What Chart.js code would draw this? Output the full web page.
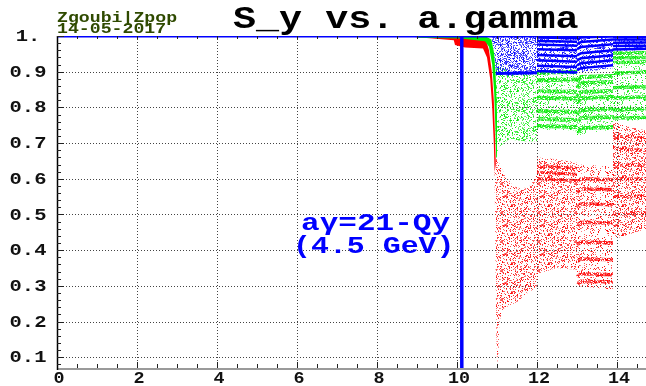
<!DOCTYPE html>
<html>
<head>
<meta charset="utf-8">
<script src="https://cdn.jsdelivr.net/npm/chart.js@4.4.1/dist/chart.umd.min.js"></script>
<style>
  body { margin: 0; background: #fff; }
  canvas { display: block; }
</style>
</head>
<body>
<canvas id="chart" width="646" height="386"></canvas>
<script>
// Axis ranges and tick labels
const xMin = 0, xMax = 14.725, yMin = 0.07, yMax = 1.0;
const xTicks = [0, 2, 4, 6, 8, 10, 12, 14];
const yTicks = [0.1, 0.2, 0.3, 0.4, 0.5, 0.6, 0.7, 0.8, 0.9, 1.0];
const yTickLabels = ['0.1', '0.2', '0.3', '0.4', '0.5', '0.6', '0.7', '0.8', '0.9', '1.'];

// Resonance marker (a.gamma = 21 - Qy)
const resonanceX = [10.12, 10.12];
const resonanceY = [0.07, 1.0];

// Segment x knots
const segAX = [10.97, 12.0];
const segBX = [12.0, 13.0];
const segCX = [13.0, 13.1, 13.9];
const segC2X = [13.0, 13.9];
const segDX = [13.9, 14.725];

// Blue - polarisation kept at 1 until ~10.9
const blueTopX = [0, 14.725];
const blueTopY = [1.0, 1.0];
const blueATopX = [10.85, 12.0];
const blueATopY = [1.0, 1.0];
const blueABotX = [10.85, 10.92, 10.96, 11.0, 11.3, 11.7, 12.0];
const blueABotY = [0.998, 0.96, 0.91, 0.893, 0.888, 0.89, 0.893];
const blueBCloud = { top: [1.0, 1.0], bot: [0.895, 0.893] };
const blueCCloud = { top: [1.0, 1.0], bot: [0.897, 0.91] };
const blueDCloud = { top: [1.0, 1.0], bot: [0.958, 0.96] };
const blueBandsB = [[0.996, 0.994], [0.986, 0.984], [0.976, 0.973], [0.963, 0.96], [0.947, 0.943], [0.932, 0.928], [0.917, 0.913], [0.902, 0.898]];
const blueBandsC = [[0.99, 0.996, 0.999], [0.977, 0.983, 0.99], [0.963, 0.969, 0.977], [0.946, 0.952, 0.96], [0.932, 0.938, 0.946], [0.918, 0.924, 0.932], [0.904, 0.91, 0.918]];
const blueBandsD = [[0.998, 0.997], [0.99, 0.99], [0.981, 0.982], [0.972, 0.973], [0.962, 0.964]];

// Green
const greenHeadTopX = [9.0, 10.7, 10.86, 10.93, 10.97, 11.0, 11.0];
const greenHeadTopY = [1.0, 1.0, 0.99, 0.95, 0.88, 0.78, 0.66];
const greenHeadBotX = [9.0, 10.1, 10.7, 10.8, 10.88, 10.93, 10.96, 10.98];
const greenHeadBotY = [0.995, 0.993, 0.985, 0.97, 0.92, 0.84, 0.74, 0.66];
const greenATopX = [10.97, 11.3, 12.0];
const greenATopY = [0.93, 0.9, 0.895];
const greenABotX = [10.96, 11.05, 11.3, 11.7, 12.0];
const greenABotY = [0.66, 0.69, 0.71, 0.705, 0.705];
const greenBCloud = { top: [0.905, 0.905], bot: [0.738, 0.735] };
const greenCCloud = { top: [0.89, 0.893], bot: [0.722, 0.738] };
const greenDCloud = { top: [0.956, 0.958], bot: [0.762, 0.765] };
const greenBandsB = [[0.897, 0.9], [0.876, 0.878], [0.846, 0.843], [0.827, 0.825], [0.79, 0.787], [0.768, 0.765], [0.748, 0.745]];
const greenBandsC = [[0.872, 0.885, 0.888], [0.855, 0.868, 0.871], [0.83, 0.843, 0.846], [0.813, 0.826, 0.829], [0.78, 0.793, 0.796], [0.757, 0.77, 0.773], [0.729, 0.742, 0.745]];
const greenBandsD = [[0.952, 0.953], [0.939, 0.94], [0.926, 0.927], [0.896, 0.899], [0.855, 0.858], [0.826, 0.829], [0.793, 0.796], [0.77, 0.772]];

// Red
const redHeadTopX = [8.85, 10.6, 10.72, 10.8, 10.87, 10.92, 10.95, 10.97];
const redHeadTopY = [1.0, 1.0, 0.99, 0.96, 0.9, 0.82, 0.72, 0.64];
const redHeadBotX = [8.85, 9.4, 9.92, 9.95, 10.2, 10.65, 10.75, 10.83, 10.88, 10.92, 10.94];
const redHeadBotY = [0.998, 0.993, 0.988, 0.975, 0.968, 0.965, 0.94, 0.88, 0.8, 0.7, 0.62];
const redATopX = [10.97, 11.05, 11.2, 11.4, 11.6, 11.8, 11.95, 12.0];
const redATopY = [0.66, 0.645, 0.61, 0.58, 0.572, 0.578, 0.6, 0.62];
const redABotX = [10.94, 10.96, 10.98, 11.0, 11.03, 11.06, 11.15, 11.3, 11.5, 11.7, 11.9, 12.0];
const redABotY = [0.62, 0.4, 0.2, 0.085, 0.1, 0.2, 0.235, 0.245, 0.255, 0.275, 0.29, 0.3];
const redBTopX = [12.0, 12.5, 13.0];
const redBTopY = [0.66, 0.655, 0.645];
const redBBotX = [12.0, 12.03, 12.5, 13.0];
const redBBotY = [0.3, 0.335, 0.35, 0.345];
const redCCloud = { top: [0.64, 0.635], bot: [0.3, 0.29] };
const redDX = [13.9, 14.3, 14.725];
const redDTopY = [0.76, 0.745, 0.735];
const redDBotY = [0.43, 0.445, 0.46];
const redBandsB = [[0.635, 0.63], [0.618, 0.613], [0.6, 0.595]];
const redBandsC = [[0.592, 0.6, 0.597], [0.562, 0.572, 0.569], [0.52, 0.53, 0.527], [0.47, 0.478, 0.476], [0.415, 0.423, 0.42], [0.368, 0.376, 0.373], [0.326, 0.334, 0.331], [0.306, 0.313, 0.311]];
const redBandsD = [[0.72, 0.715], [0.685, 0.68], [0.64, 0.637], [0.6, 0.6], [0.55, 0.553], [0.5, 0.505]];

// speckled texture so the clouds look like scattered points
const hash = (i, j, s) => {
    let n = Math.imul(i, 374761393) + Math.imul(j, 668265263) + Math.imul(s, 1442695041);
    n = Math.imul(n ^ (n >>> 13), 1274126177);
    return ((n ^ (n >>> 16)) >>> 0) / 4294967296;
};
const speckle = (rgb, density, seed) => {
    const c = document.createElement('canvas');
    c.width = 37; c.height = 29;
    const g = c.getContext('2d');
    for (let i = 0; i < c.width; i++) {
        for (let j = 0; j < c.height; j++) {
            if (hash(i, j, seed) < density) {
                g.fillStyle = `rgba(${rgb},${0.45 + 0.55 * hash(j, i, seed + 7)})`;
                g.fillRect(i, j, 1, 1);
            }
        }
    }
    return g.createPattern(c, 'repeat');
};

const RED = '255,0,0', GREEN = '0,235,0', BLUE = '0,0,255';
const redCloudFill = speckle(RED, 0.3, 1);
const redBandFill = speckle(RED, 0.8, 2);
const greenCloudFill = speckle(GREEN, 0.3, 3);
const greenLightFill = speckle(GREEN, 0.17, 10);
const greenBandFill = speckle(GREEN, 0.85, 4);
const blueCloudFill = speckle(BLUE, 0.45, 5);
const blueLightFill = speckle(BLUE, 0.3, 6);

const pts = (xs, ys) => xs.map((x, i) => ({ x, y: ys[i] }));

const shape = (topX, topY, botX, botY, fill, order) => ({
    data: pts(topX, topY).concat(pts(botX, botY).reverse()),
    fill: 'shape',
    backgroundColor: fill,
    borderColor: 'rgba(0,0,0,0)',
    borderWidth: 1,
    pointRadius: 0,
    tension: 0,
    order
});

const band = (xs, ys, color, width, order) => ({
    data: pts(xs, ys),
    fill: false,
    borderColor: color,
    borderWidth: width,
    pointRadius: 0,
    tension: 0,
    order
});

const datasets = [];

// red (drawn under green and blue)
datasets.push(shape(redHeadTopX, redHeadTopY, redHeadBotX, redHeadBotY, '#ff0000', 70));
datasets.push(shape(redATopX, redATopY, redABotX, redABotY, redCloudFill, 70));
datasets.push(shape(redBTopX, redBTopY, redBBotX, redBBotY, redCloudFill, 70));
datasets.push(shape(segC2X, redCCloud.top, segC2X, redCCloud.bot, speckle(RED, 0.18, 9), 70));
datasets.push(shape(redDX, redDTopY, redDX, redDBotY, redCloudFill, 70));
redBandsB.forEach(b => datasets.push(band(segBX, b, redBandFill, 3, 65)));
redBandsC.forEach(b => datasets.push(band(segCX, b, redBandFill, 3.5, 65)));
redBandsD.forEach(b => datasets.push(band(segDX, b, speckle(RED, 0.55, 8), 3, 65)));

// green
datasets.push(shape(greenATopX, greenATopY, greenABotX, greenABotY, greenCloudFill, 50));
datasets.push(shape(segBX, greenBCloud.top, segBX, greenBCloud.bot, greenLightFill, 50));
datasets.push(shape(segC2X, greenCCloud.top, segC2X, greenCCloud.bot, greenLightFill, 50));
datasets.push(shape(segDX, greenDCloud.top, segDX, greenDCloud.bot, greenLightFill, 50));
datasets.push(shape(greenHeadTopX, greenHeadTopY, greenHeadBotX, greenHeadBotY, '#00ee00', 45));
greenBandsB.forEach(b => datasets.push(band(segBX, b, greenBandFill, 4, 40)));
greenBandsC.forEach(b => datasets.push(band(segCX, b, greenBandFill, 4, 40)));
greenBandsD.forEach(b => datasets.push(band(segDX, b, greenBandFill, 3.5, 40)));

// blue
datasets.push(shape(blueATopX, blueATopY, blueABotX, blueABotY, blueCloudFill, 30));
datasets.push(shape(segBX, blueBCloud.top, segBX, blueBCloud.bot, blueLightFill, 30));
datasets.push(shape(segC2X, blueCCloud.top, segC2X, blueCCloud.bot, blueLightFill, 30));
datasets.push(shape(segDX, blueDCloud.top, segDX, blueDCloud.bot, blueLightFill, 30));
datasets.push(band(segAX, [0.895, 0.897], '#0000ff', 3, 25));
blueBandsB.forEach(b => datasets.push(band(segBX, b, '#0000ff', 2.5, 25)));
blueBandsC.forEach(b => datasets.push(band(segCX, b, '#0000ff', 2.5, 25)));
blueBandsD.forEach(b => datasets.push(band(segDX, b, '#0000ff', 2.5, 25)));
datasets.push(band(blueTopX, blueTopY, '#0000ff', 3, 20));

// resonance line on top
datasets.push(band(resonanceX, resonanceY, '#0000ff', 3.5, 0));

// text drawn wide like the original Courier-ish output
const wide = (ctx, text, x, y, sx, align) => {
    ctx.save();
    ctx.translate(x, y);
    ctx.scale(sx, 1);
    ctx.textAlign = align;
    ctx.fillText(text, 0, 0);
    ctx.restore();
};

const framePlugin = {
    id: 'frame',
    beforeDatasetsDraw(chart) {
        const { ctx, chartArea: a, scales: { x, y } } = chart;
        ctx.save();
        ctx.strokeStyle = '#444';
        ctx.lineWidth = 1;
        ctx.setLineDash([1, 2]);
        ctx.beginPath();
        xTicks.slice(1).forEach(t => {
            const px = Math.round(x.getPixelForValue(t)) + 0.5;
            ctx.moveTo(px, a.top); ctx.lineTo(px, a.bottom);
        });
        yTicks.slice(0, -1).forEach(t => {
            const py = Math.round(y.getPixelForValue(t)) + 0.5;
            ctx.moveTo(a.left, py); ctx.lineTo(a.right, py);
        });
        ctx.stroke();
        ctx.restore();
    },
    afterDatasetsDraw(chart) {
        const { ctx, chartArea: a, scales: { x, y } } = chart;
        ctx.save();
        // bottom axis
        ctx.strokeStyle = '#9a9a9a';
        ctx.lineWidth = 2;
        ctx.beginPath();
        ctx.moveTo(a.left, a.bottom + 1); ctx.lineTo(a.right, a.bottom + 1);
        ctx.stroke();
        // left axis
        ctx.strokeStyle = '#000';
        ctx.lineWidth = 1.5;
        ctx.beginPath();
        ctx.moveTo(a.left + 0.5, a.top); ctx.lineTo(a.left + 0.5, a.bottom + 2);
        ctx.stroke();
        // inward ticks
        ctx.lineWidth = 1;
        ctx.strokeStyle = '#222';
        ctx.beginPath();
        for (let k = 4; k <= 50; k++) {
            const v = k * 0.02;
            const py = Math.round(y.getPixelForValue(v)) + 0.5;
            const len = (k % 5 === 0) ? 7 : 4;
            ctx.moveTo(a.left, py); ctx.lineTo(a.left + len, py);
        }
        for (let k = 1; k <= 29; k++) {
            const v = k * 0.5;
            const px = Math.round(x.getPixelForValue(v)) + 0.5;
            const len = (k % 4 === 0) ? 6 : 4;
            ctx.moveTo(px, a.bottom); ctx.lineTo(px, a.bottom - len);
            ctx.moveTo(px, a.top); ctx.lineTo(px, a.top + 3);
        }
        ctx.stroke();
        ctx.restore();
    },
    afterDraw(chart) {
        const { ctx, scales: { x, y } } = chart;
        ctx.save();
        ctx.fillStyle = '#111';
        ctx.textBaseline = 'middle';
        ctx.font = 'bold 16px "Liberation Mono", monospace';
        yTicks.forEach((t, i) => {
            wide(ctx, yTickLabels[i], 28, y.getPixelForValue(t) + 1, 1.28, 'center');
        });
        xTicks.forEach(t => {
            wide(ctx, String(t), x.getPixelForValue(t) + 2, 379, 1.15, 'center');
        });
        // title
        ctx.textBaseline = 'alphabetic';
        ctx.fillStyle = '#000';
        ctx.font = 'bold 32px "Liberation Mono", monospace';
        wide(ctx, 'S_y vs. a.gamma', 233, 28, 1.2, 'left');
        // stamp
        ctx.fillStyle = '#2f4a00';
        ctx.font = 'bold 14px "Liberation Mono", monospace';
        wide(ctx, 'Zgoubi|Zpop', 57, 22, 1.3, 'left');
        wide(ctx, '14-05-2017', 57, 33, 1.3, 'left');
        // resonance annotation
        ctx.fillStyle = '#0000ff';
        ctx.font = 'bold 23px "Liberation Mono", monospace';
        wide(ctx, 'a\u03b3=21-Qy', 301, 230, 1.35, 'left');
        wide(ctx, '(4.5 GeV)', 293, 253, 1.3, 'left');
        ctx.restore();
    }
};

new Chart(document.getElementById('chart'), {
    type: 'line',
    data: { datasets },
    options: {
        responsive: false,
        animation: false,
        events: [],
        layout: { padding: { left: 57, top: 36, right: 0, bottom: 18 } },
        scales: {
            x: { type: 'linear', min: xMin, max: xMax, display: false },
            y: { type: 'linear', min: yMin, max: yMax, display: false }
        },
        plugins: {
            legend: { display: false },
            tooltip: { enabled: false },
            title: { display: false }
        }
    },
    plugins: [framePlugin]
});
</script>
</body>
</html>
